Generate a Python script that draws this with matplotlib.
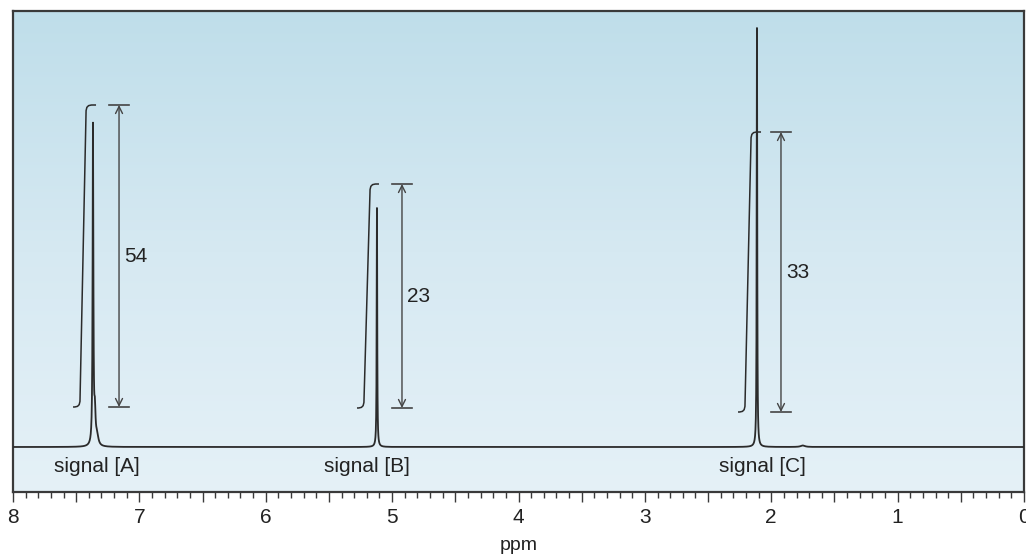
import numpy as np
import matplotlib
matplotlib.use("Agg")
import matplotlib.pyplot as plt
from matplotlib.path import Path
from matplotlib.patches import PathPatch
from matplotlib.colors import LinearSegmentedColormap
from matplotlib.ticker import FixedLocator, MultipleLocator, FuncFormatter

plt.rcParams['font.family'] = ['Liberation Sans', 'DejaVu Sans']

# ---- data ----
peak_ppm = [7.367, 7.352, 7.335, 5.120, 2.113, 1.75]
peak_height = [319, 30, 10, 239, 419, 1.5]
peak_width = [0.0035, 0.006, 0.012, 0.0025, 0.0025, 0.02]

signal_names = ["signal [A]", "signal [B]", "signal [C]"]
signal_label_ppm = [7.335, 5.199, 2.073]

integral_start_ppm = [7.525, 5.278, 2.263]
integral_end_ppm = [7.343, 5.104, 2.081]
integral_bottom = [40, 39, 35]
integral_top = [342, 263, 315]

integral_values = ["54", "23", "33"]
dim_ppm = [7.161, 4.922, 1.923]
value_label_ppm = [7.027, 4.787, 1.788]
value_label_y = [190, 151, 174]

x_ticks = [8, 7, 6, 5, 4, 3, 2, 1, 0]

# ---- figure ----
W, H = 1026, 555
fig = plt.figure(figsize=(W / 100, H / 100), dpi=100)
ax = fig.add_axes([13 / W, (H - 492) / H, (1024 - 13) / W, (492 - 11) / H])

ax.set_xlim(8, 0)
ax.set_ylim(-45, 436)

# gradient background
cmap = LinearSegmentedColormap.from_list("bg", ["#e5f1f7", "#d6e9f2", "#bfdeea"])
grad = np.linspace(0, 1, 256).reshape(-1, 1)
ax.imshow(grad, extent=[0, 1, 0, 1], transform=ax.transAxes, aspect='auto',
          cmap=cmap, origin='lower', zorder=0)

# spectrum
x = np.linspace(0, 8, 160001)
y = np.zeros_like(x)
for p, h, w in zip(peak_ppm, peak_height, peak_width):
    y += h * w ** 2 / ((x - p) ** 2 + w ** 2)
ax.plot(x, y, color="#2b2b2b", lw=1.3, zorder=3)

# px -> ppm scale
ppm_per_px = 8.0 / (1024 - 13)

# integral curves
for xs, xe, yb, yt in zip(integral_start_ppm, integral_end_ppm, integral_bottom, integral_top):
    def P(dx_px, yy):
        return (xs - dx_px * ppm_per_px, yy)
    span_px = (xs - xe) / ppm_per_px
    verts = [P(0, yb),
             P(5, yb), P(7, yb + 1), P(7, yb + 8),
             P(13, yt - 8),
             P(13, yt - 1), P(15, yt), P(20, yt),
             P(span_px, yt)]
    codes = [Path.MOVETO,
             Path.CURVE4, Path.CURVE4, Path.CURVE4,
             Path.LINETO,
             Path.CURVE4, Path.CURVE4, Path.CURVE4,
             Path.LINETO]
    ax.add_patch(PathPatch(Path(verts, codes), fill=False, edgecolor="#2b2b2b",
                           lw=1.1, zorder=4))

# dimension lines
cap = 10 * ppm_per_px
for xd, yb, yt in zip(dim_ppm, integral_bottom, integral_top):
    ax.annotate("", xy=(xd, yt), xytext=(xd, yb),
                arrowprops=dict(arrowstyle="<->,head_length=0.5,head_width=0.25",
                                color="#444444", lw=1.0, shrinkA=0, shrinkB=0),
                zorder=4)
    ax.plot([xd - cap, xd + cap], [yt, yt], color="#444444", lw=1.2, zorder=4)
    ax.plot([xd - cap, xd + cap], [yb, yb], color="#444444", lw=1.2, zorder=4)

for xv, yv, t in zip(value_label_ppm, value_label_y, integral_values):
    ax.text(xv, yv, t, ha='center', va='center', fontsize=15, color="#222222", zorder=5)

for xl, t in zip(signal_label_ppm, signal_names):
    ax.text(xl, -20, t, ha='center', va='center', fontsize=15, color="#222222", zorder=5)

# axes styling
for s in ax.spines.values():
    s.set_color("#3a3a3a")
    s.set_linewidth(1.6)
ax.set_yticks([])

major = np.arange(0, 8.01, 0.5)
ax.xaxis.set_major_locator(FixedLocator(major))
ax.xaxis.set_minor_locator(MultipleLocator(0.1))
ax.xaxis.set_major_formatter(FuncFormatter(
    lambda v, pos: f"{int(round(v))}" if abs(v - round(v)) < 1e-6 else ""))
ax.tick_params(axis='x', which='major', direction='out', length=7.5, width=1.0,
               color="#3a3a3a", labelsize=15, pad=4, labelcolor="#222222")
ax.tick_params(axis='x', which='minor', direction='out', length=4.5, width=1.0,
               color="#3a3a3a")
ax.set_xlabel("ppm", fontsize=14, color="#222222", labelpad=7)

fig.savefig("out.png", dpi=100)
